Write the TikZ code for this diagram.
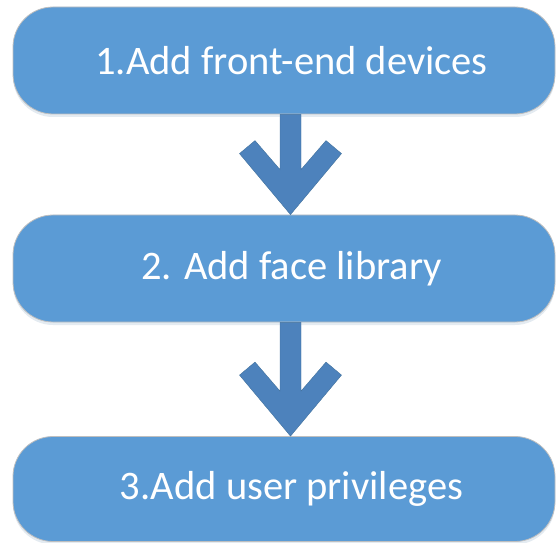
\documentclass[tikz,border=0pt]{standalone}
\usepackage{fontspec}
\setmainfont{Carlito}
\usetikzlibrary{calc, shadows}

\definecolor{boxblue}{HTML}{5B9BD5}
\definecolor{arrowblue}{HTML}{4D82BC}
\definecolor{arrowline}{HTML}{41719C}
\definecolor{boxline}{HTML}{BFBFBF}

\tikzset{
  stepbox/.style = {draw = boxline, line width = 0.8pt, fill = boxblue,
    rounded corners = 40pt, minimum width = 542pt, inner sep = 0pt,
    text = white, font = \fontsize{40.5}{48}\selectfont,
    execute at begin node = {\hskip 15pt},
    drop shadow = {shadow xshift = 0pt, shadow yshift = -3pt,
      opacity = 0.18, fill = boxblue!60!gray}},
  flowarrow/.style = {fill = arrowblue, draw = arrowline, line width = 0.4pt}
}

\begin{document}
\begin{tikzpicture}[x = 1pt, y = -1pt]
  \useasboundingbox (0,0) rectangle (558,543);
  \node[stepbox, minimum height = 107pt] (B1) at (284,60.5) {1.Add front-end devices};
  \node[stepbox, minimum height = 107pt] (B2) at (284,268.5) {2. Add face library};
  \node[stepbox, minimum height = 105pt] (B3) at (284,489) {3.Add user privileges};
  \foreach \from/\to in {B1/B2, B2/B3} {
    \coordinate (s) at ($(\from.south)+(6.5,0)$);
    \coordinate (t) at ($(\to.north)+(6.5,0)$);
    \draw[flowarrow] ($(s)+(-10.5,0)$) -- ($(t)+(-10.5,-45)$)
      -- ($(t)+(-35.5,-74)$) -- ($(t)+(-51,-61)$) -- (t)
      -- ($(t)+(51,-61)$) -- ($(t)+(35.5,-74)$) -- ($(t)+(10.5,-45)$)
      -- ($(s)+(10.5,0)$) -- cycle;
  }
\end{tikzpicture}
\end{document}
